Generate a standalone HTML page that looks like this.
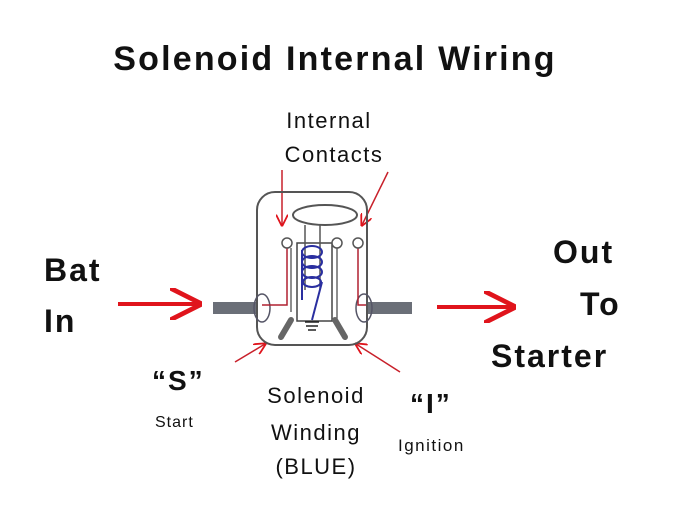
<!DOCTYPE html>
<html><head><style>
body{margin:0;background:#fff;width:677px;height:516px;overflow:hidden}
svg{position:absolute;left:0;top:0}
text{font-family:"Liberation Sans","DejaVu Sans",sans-serif;fill:#111}
</style></head><body>
<svg width="677" height="516" viewBox="0 0 677 516">
<defs><marker id="a" markerWidth="8" markerHeight="8" refX="7" refY="4" orient="auto" markerUnits="strokeWidth"><path d="M0,0 L8,4 L0,8" fill="none" stroke="#e0141c" stroke-width="1.2"/></marker></defs>
<text x="335" y="70" font-size="34" font-weight="bold" text-anchor="middle" letter-spacing="2.2">Solenoid Internal Wiring</text>
<text x="329" y="128" font-size="22" text-anchor="middle" letter-spacing="1.5">Internal</text>
<text x="334" y="162" font-size="22" text-anchor="middle" letter-spacing="1.5">Contacts</text>
<text x="44" y="281" font-size="32" font-weight="bold" letter-spacing="2">Bat</text>
<text x="44" y="332" font-size="32" font-weight="bold" letter-spacing="2">In</text>
<text x="553" y="263" font-size="32" font-weight="bold" letter-spacing="2">Out</text>
<text x="580" y="315" font-size="32" font-weight="bold" letter-spacing="2">To</text>
<text x="491" y="367" font-size="32" font-weight="bold" letter-spacing="2">Starter</text>
<text x="152" y="390" font-size="28" font-weight="bold" letter-spacing="2">“S”</text>
<text x="155" y="427" font-size="16" letter-spacing="1">Start</text>
<text x="316" y="403" font-size="22" text-anchor="middle" letter-spacing="1.5">Solenoid</text>
<text x="316" y="440" font-size="22" text-anchor="middle" letter-spacing="1.5">Winding</text>
<text x="316" y="474" font-size="22" text-anchor="middle" letter-spacing="1.5">(BLUE)</text>
<text x="410" y="413" font-size="28" font-weight="bold" letter-spacing="2">“I”</text>
<text x="398" y="451" font-size="17" letter-spacing="1.5">Ignition</text>
<line x1="118" y1="304" x2="198" y2="304" stroke="#e0141c" stroke-width="4" marker-end="url(#a)"/>
<line x1="437" y1="307" x2="512" y2="307" stroke="#e0141c" stroke-width="4" marker-end="url(#a)"/>
<line x1="282" y1="170" x2="282" y2="225" stroke="#c8202a" stroke-width="1.5" marker-end="url(#a)"/>
<line x1="388" y1="172" x2="362" y2="225" stroke="#c8202a" stroke-width="1.5" marker-end="url(#a)"/>
<line x1="235" y1="362" x2="265" y2="344" stroke="#c8202a" stroke-width="1.5" marker-end="url(#a)"/>
<line x1="400" y1="372" x2="356" y2="344" stroke="#c8202a" stroke-width="1.5" marker-end="url(#a)"/>
<rect x="213" y="302" width="44" height="12" fill="#6b6f78"/>
<rect x="367" y="302" width="45" height="12" fill="#6b6f78"/>
<rect x="257" y="192" width="110" height="153" rx="18" fill="none" stroke="#555" stroke-width="2"/>
<ellipse cx="325" cy="215" rx="32" ry="10" fill="none" stroke="#555" stroke-width="2"/>
<ellipse cx="262" cy="308" rx="8" ry="14" fill="none" stroke="#556" stroke-width="1.5"/>
<ellipse cx="364" cy="308" rx="8" ry="14" fill="none" stroke="#556" stroke-width="1.5"/>
<rect x="297" y="243" width="35" height="78" fill="none" stroke="#444" stroke-width="1.5"/>
<line x1="305" y1="225" x2="305" y2="290" stroke="#555" stroke-width="1.5"/>
<line x1="320" y1="225" x2="320" y2="290" stroke="#555" stroke-width="1.5"/>
<path d="M287 248 V305 H262" fill="none" stroke="#b02030" stroke-width="1.5"/>
<path d="M291 248 V312" fill="none" stroke="#444" stroke-width="1.2"/>
<path d="M358 248 V305 H366" fill="none" stroke="#b02030" stroke-width="1.5"/>
<path d="M337 248 V320" fill="none" stroke="#444" stroke-width="1.2"/>
<g fill="none" stroke="#2a2fa0" stroke-width="2">
<ellipse cx="312" cy="252" rx="10" ry="6"/><ellipse cx="312" cy="262" rx="10" ry="6"/><ellipse cx="312" cy="272" rx="10" ry="6"/><ellipse cx="312" cy="282" rx="9" ry="5"/>
<path d="M302 250 V300 M322 282 L312 320"/></g>
<circle cx="287" cy="243" r="5" fill="#fff" stroke="#555" stroke-width="1.5"/>
<circle cx="337" cy="243" r="5" fill="#fff" stroke="#555" stroke-width="1.5"/>
<circle cx="358" cy="243" r="5" fill="#fff" stroke="#555" stroke-width="1.5"/>
<line x1="291" y1="320" x2="281" y2="337" stroke="#666" stroke-width="6" stroke-linecap="round"/>
<line x1="335" y1="320" x2="345" y2="337" stroke="#666" stroke-width="6" stroke-linecap="round"/>
<g stroke="#222" stroke-width="1.5"><line x1="305" y1="322" x2="319" y2="322"/><line x1="306" y1="326" x2="318" y2="326"/><line x1="308" y1="330" x2="316" y2="330"/></g>
</svg>
</body></html>
